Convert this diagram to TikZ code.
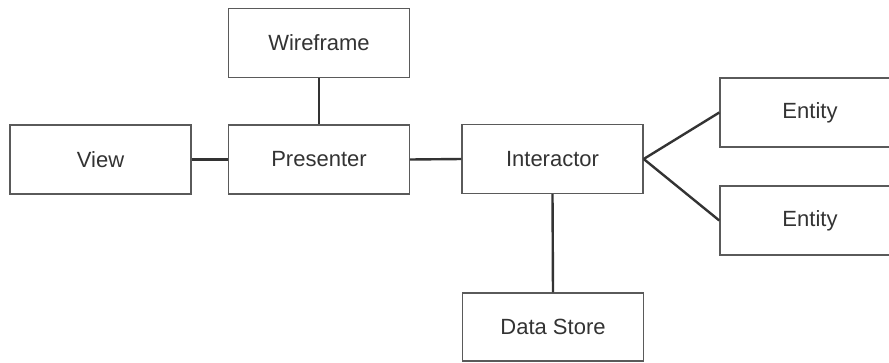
\documentclass[tikz,border=0pt]{standalone}
\usepackage{fontspec}
\setmainfont{Liberation Sans}
\definecolor{boxline}{HTML}{5A5A5A}
\definecolor{conn}{HTML}{333333}
\definecolor{txt}{HTML}{333333}
\tikzset{
  box/.style={draw=boxline, line width=1.4pt, fill=white, inner sep=0pt,
    minimum width=181pt, minimum height=69pt, text=txt,
    font=\fontsize{22}{26}\selectfont},
  link/.style={draw=conn, line width=2.4pt}
}
\begin{document}
\begin{tikzpicture}[x=1pt,y=-1pt]
\useasboundingbox (0,0) rectangle (889,362);
\clip (0,0) rectangle (889,362);
\node[box] (wire) at (319,43) {Wireframe};
\node[box] (view) at (100.5,159.5) {View};
\node[box] (pres) at (319,159.5) {Presenter};
\node[box] (inter) at (552.5,159) {Interactor};
\node[box, minimum width=180pt] (ent1) at (810,112.5) {Entity};
\node[box, minimum width=180pt] (ent2) at (810,220.5) {Entity};
\node[box, minimum height=68pt] (store) at (553,327) {Data Store};
\draw[link] (view.east) -- (pres.west);
\draw[link] (wire.south) -- (pres.north);
\draw[link] (pres.east) -- (inter.west);
\draw[link] (inter.south) -- (store.north);
\draw[link] (inter.east) -- (ent1.west);
\draw[link] (inter.east) -- (ent2.west);
\end{tikzpicture}
\end{document}
